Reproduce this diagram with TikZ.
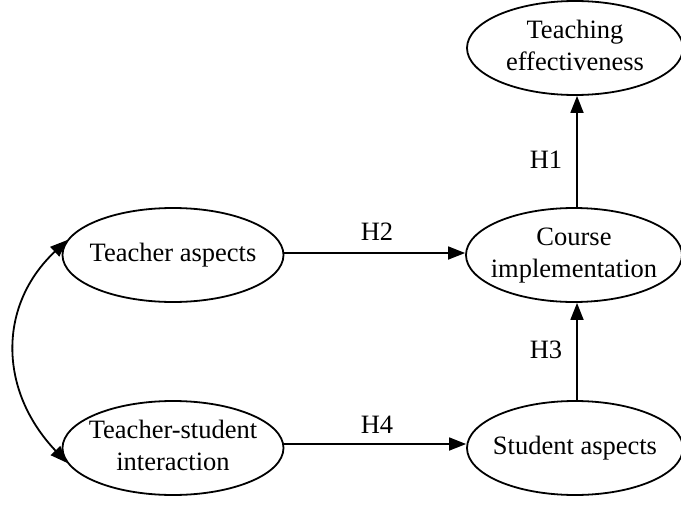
\documentclass[tikz,border=0pt]{standalone}
\usepackage{fontspec}
\setmainfont{Liberation Serif}
\usetikzlibrary{arrows.meta,shapes.geometric}
\newcommand{\ctxt}[1]{\makebox[0pt]{\begin{tabular}{@{}c@{}}#1\end{tabular}}}
\begin{document}
\begin{tikzpicture}[x=1pt,y=-1pt,
  ell/.style={draw,ellipse,line width=1.8pt,inner sep=0pt,minimum width=216pt,minimum height=94pt,font=\fontsize{26.5}{32}\selectfont},
  lab/.style={font=\fontsize{26.5}{32}\selectfont,inner sep=0pt},
  arr/.style={line width=1.8pt,-{Triangle[length=17pt,width=13pt]}},
  darr/.style={line width=1.8pt,{Triangle[length=17pt,width=13pt]}-{Triangle[length=17pt,width=13pt]}}]
\useasboundingbox (0,0) rectangle (681,506);
\node[ell] (te) at (575,48) {\ctxt{Teaching\\effectiveness}};
\node[ell] (ci) at (574,255) {\ctxt{Course\\implementation}};
\node[ell] (sa) at (575,448) {\ctxt{Student aspects}};
\node[ell,minimum width=221pt] (ta) at (173,255) {\ctxt{Teacher aspects}};
\node[ell,minimum width=221pt] (ts) at (173,448) {\ctxt{Teacher-student\\interaction}};
\draw[arr] (ci.north -| 577,0) -- (te.south -| 577,0);
\draw[arr] (ta.east |- 0,253) -- (ci.west |- 0,253);
\draw[arr] (sa.north -| 577,0) -- (ci.south -| 577,0);
\draw[arr] (ts.east |- 0,444) -- (sa.west |- 0,444);
\draw[darr] (ta.172) .. controls (-2,305) and (-2,390) .. (ts.188);
\node[lab] (h1) at (546,160) {H1};
\node[lab] (h2) at (377,232) {H2};
\node[lab] (h3) at (546,350) {H3};
\node[lab] (h4) at (377,425) {H4};
\end{tikzpicture}
\end{document}
